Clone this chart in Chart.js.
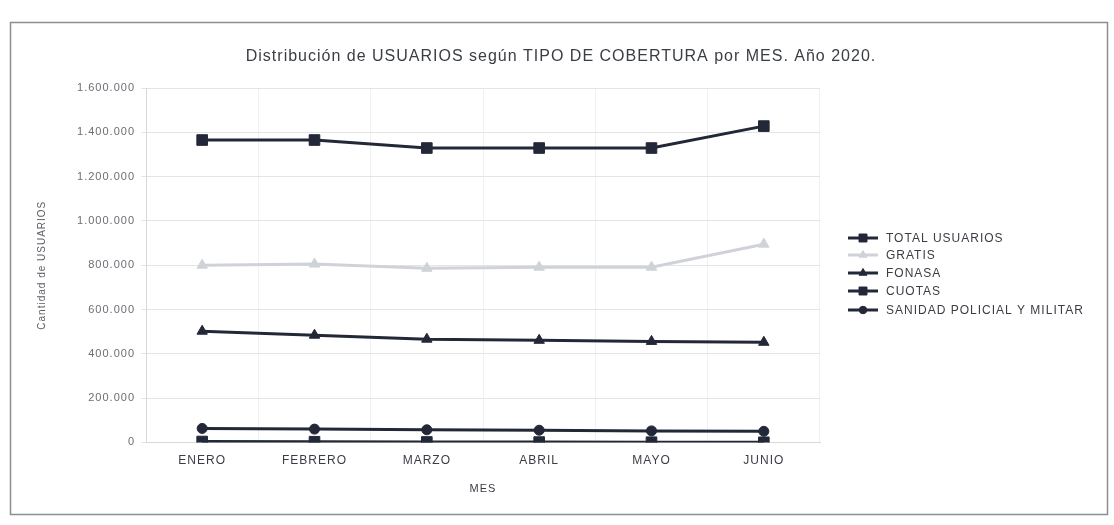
<!DOCTYPE html>
<html><head><meta charset="utf-8">
<script src="https://cdn.jsdelivr.net/npm/chart.js@4/dist/chart.umd.min.js"></script>
<style>html,body{margin:0;padding:0;background:#fff}#c{display:block}</style>
</head><body>
<canvas id="c" width="1114" height="525"></canvas>
<script>
const categories = ['ENERO','FEBRERO','MARZO','ABRIL','MAYO','JUNIO'];
const totalUsuarios = [1365000, 1365000, 1329000, 1329000, 1329000, 1428000];
const gratis = [800000, 805000, 786000, 791000, 791000, 895000];
const fonasa = [502000, 484000, 466000, 461000, 456000, 452000];
const cuotas = [4000, 3000, 2000, 1500, 1000, 500];
const sanidad = [63000, 60000, 57000, 55000, 52000, 50000];
const yTicks = [0, 200000, 400000, 600000, 800000, 1000000, 1200000, 1400000, 1600000];
const chartTitle = 'Distribución de USUARIOS según TIPO DE COBERTURA por MES. Año 2020.';

const dark = '#232838';
const light = '#cfd3d8';
const FONT = '"Liberation Sans", Arial, sans-serif';
const fmt = v => String(v).replace(/\B(?=(\d{3})+(?!\d))/g, '.');

const series = [
  {label:'TOTAL USUARIOS', data: totalUsuarios, color: dark, style:'rect', r:7.5},
  {label:'GRATIS', data: gratis, color: light, style:'triangle', r:6},
  {label:'FONASA', data: fonasa, color: dark, style:'triangle', r:6},
  {label:'CUOTAS', data: cuotas, color: dark, style:'rect', r:7.5},
  {label:'SANIDAD POLICIAL Y MILITAR', data: sanidad, color: dark, style:'circle', r:5}
];

const spacing = {
  id:'spacing',
  beforeUpdate(chart){ chart.ctx.letterSpacing = '1px'; },
  beforeRender(chart){ chart.ctx.letterSpacing = '1px'; }
};

const frame = {
  id:'frame',
  beforeDraw(chart){
    const ctx = chart.ctx;
    ctx.save();
    ctx.fillStyle = '#fff';
    ctx.fillRect(0,0,chart.width,chart.height);
    ctx.strokeStyle = '#8a8d92';
    ctx.lineWidth = 1.5;
    ctx.strokeRect(10.5, 22.5, 1097, 492);
    ctx.fillStyle = '#3a3d44';
    ctx.font = '16px ' + FONT;
    ctx.textAlign = 'center';
    ctx.textBaseline = 'middle';
    ctx.fillText(chartTitle, 561, 57);
    ctx.restore();
  }
};

const legendPlugin = {
  id:'customLegend',
  afterDraw(chart){
    const ctx = chart.ctx;
    const ys = [238, 255, 273, 291, 310];
    ctx.save();
    series.forEach((s,i)=>{
      const y = ys[i];
      ctx.strokeStyle = s.color; ctx.lineWidth = 3;
      ctx.beginPath(); ctx.moveTo(848,y); ctx.lineTo(878,y); ctx.stroke();
      ctx.fillStyle = s.color; ctx.strokeStyle = s.color; ctx.lineWidth = 1;
      Chart.helpers.drawPoint(ctx, {pointStyle:s.style, radius:s.r*0.75, borderWidth:1}, 863, y);
      ctx.fillStyle = '#3a3d44';
      ctx.font = '12px ' + FONT;
      ctx.textAlign = 'left';
      ctx.textBaseline = 'middle';
      ctx.fillText(s.label, 886, y+1);
    });
    ctx.restore();
  }
};

new Chart(document.getElementById('c'), {
  type:'line',
  data:{
    labels: categories,
    datasets: series.map(s=>({
      label:s.label, data:s.data,
      borderColor:s.color, backgroundColor:s.color,
      borderWidth:3, pointStyle:s.style, pointRadius:s.r,
      pointBorderWidth:1, pointBackgroundColor:s.color, pointBorderColor:s.color,
      tension:0, fill:false
    }))
  },
  options:{
    responsive:false, animation:false,
    layout:{padding:{left:10, right:294, top:88, bottom:29}},
    plugins:{
      legend:{display:false},
      tooltip:{enabled:false},
      title:{display:false}
    },
    scales:{
      x:{
        offset:true,
        grid:{offset:true, color:'#f1f1f1', drawTicks:false},
        border:{color:'#d8d8d8'},
        ticks:{color:'#3a3d44', padding:11, font:{family:FONT, size:12}},
        title:{display:true, text:'MES', color:'#3a3d44', padding:{top:4, bottom:0},
          font:{family:FONT, size:11}}
      },
      y:{
        min:0, max:1600000,
        afterFit(scale){ scale.width = 136; },
        afterBuildTicks(scale){ scale.ticks = yTicks.map(v=>({value:v})); },
        grid:{color:'#e4e4e4', tickLength:5},
        border:{color:'#d8d8d8'},
        ticks:{color:'#6a6d73', padding:6, callback:v=>fmt(v),
          font:{family:FONT, size:11}},
        title:{display:true, text:'Cantidad de USUARIOS', color:'#5a5d63', padding:{top:26, bottom:0},
          font:{family:FONT, size:10}}
      }
    }
  },
  plugins:[spacing, frame, legendPlugin]
});
</script>
</body></html>
